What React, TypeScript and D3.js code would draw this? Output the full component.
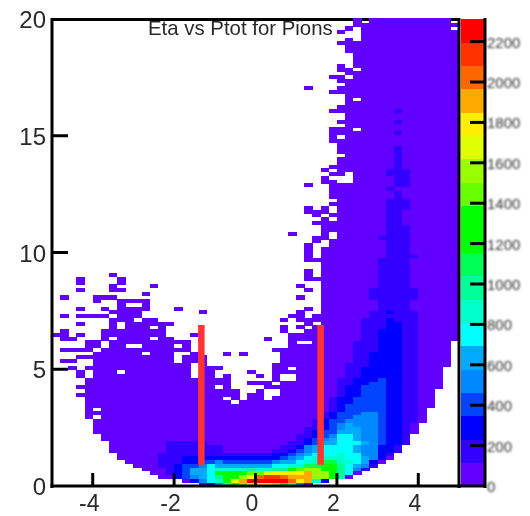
import React from "react";
import * as d3 from "d3";

const title = "Eta vs Ptot for Pions";
const xTicks = [-4, -2, 0, 2, 4];
const yTicks = [0, 5, 10, 15, 20];
const zTicks = [0, 200, 400, 600, 800, 1000, 1200, 1400, 1600, 1800, 2000, 2200];
const palette = ["#6200ff","#3300ff","#0000ff","#0044ff","#0088ff","#00aaff","#00ffff","#00ffcc","#00ff99","#00ff55","#00ff00","#00ff00","#66ff00","#99ff00","#ddff00","#ffee00","#ffaa00","#ff6600","#ff3300","#ff0000"];
const cutLines = [{ x: -1.33, y0: 0.91, y1: 6.9 }, { x: 1.6, y0: 0.91, y1: 6.9 }];
const zMax = 2312;
const xBins = 50;
const yBinWidth = 0.16;

// each row (from y = 0 upward): "<first column><level>" runs; a=lowest level, "."=empty bin
const hist: string[] = [
"18a 19c 20e 21h 22k 23m 24o 25p 27n 28k 29h 30e 31a 32.",
"16a 17c 18e 19g 20h 21k 22o 23q 24t 29r 30p 31q 32h 33c 34.",
"13a 15c 16d 17e 18f 19g 20i 21k 23n 24p 25r 26s 28r 29q 31q 32n 34l 35i 36a 37.",
"12a 14b 15c 16d 17f 19g 20k 23l 24m 26o 27p 31q 32n 34l 35i 36g 37a 38.",
"11a 14b 15c 16d 17f 19g 20h 24i 25h 27i 29k 30m 31n 33l 35i 36g 37e 38b 39.",
"10a 13b 15c 16d 18e 19g 20f 27g 29h 31j 33k 35i 36g 37f 38e 39b 40.",
"9a 13b 16c 18d 20e 21d 27e 28f 30g 31h 33j 35h 37g 38f 39c 40a 41.",
"8a 13b 16c 28d 29e 30f 31g 32h 36g 38f 39e 40c 41a 42.",
"8a 13b 20b 27c 29d 30e 31f 32g 35h 36g 38e 40c 41b 42.",
"7a 14b 21a 27b 29c 30d 31e 32f 33g 37f 38e 40c 42b 43.",
"7a 14b 21a 28b 30c 31e 32f 33g 37f 38e 40c 42b 43.",
"7a 14b 19a 29b 31c 32d 33f 35g 38f 39e 40d 41c 43b 44.",
"6a 30b 31c 32d 33e 34f 35g 37f 38e 40d 41c 43b 44.",
"6a 30b 32c 33d 34e 35g 37f 38e 40d 41c 43b 44.",
"5a 31b 32c 33d 35f 38e 40d 41c 43b 44a 45.",
"5a 31b 33c 34d 35e 36f 38e 40d 41c 43b 44a 45.",
"5a 32b 33c 34d 35e 36f 37e 40d 41c 43b 44a 45.",
"5a 32b 33c 34d 36e 40d 41c 43b 45a 46.",
"4a 5. 6a 33b 34c 35d 37e 40d 41c 43b 45a 46.",
"4a 33b 34c 35d 38e 40d 41c 43b 45a 46.",
"4a 5. 6a 34b 35c 36d 41c 43b 45a 46.",
"4a 34b 35c 36d 41c 43b 45a 47.",
"4a 22. 23a 34b 35c 37d 41c 43b 45a 47.",
"4a 21. 22a 23. 24a 26. 27a 34b 35c 37d 41c 43b 45a 47.",
"3a 23. 24a 26. 28a 35b 36c 38d 41c 43b 45a 47.",
"4a 23. 25a 26. 28a 35b 36c 38d 41c 43b 45a 47.",
"3a 20. 21a 22. 26a 35b 36c 38d 41c 43b 45a 48.",
"4a 22. 24a 27. 28a 35b 37c 39d 41c 43b 45a 48.",
"4a 22. 27a 28. 30a 35b 37c 40d 41c 43b 45a 48.",
"3a 4. 5a 17. 18a 20. 21a 22. 25a 26. 27a 28. 30a 36b 38c 43b 45a 48.",
"3a 4. 5a 8. 9a 17. 18a 20. 24a 25. 27a 36b 38c 43b 45a 48.",
"2a 3. 4a 17. 18a 21. 27a 29. 30a 36b 38c 43b 45a 48.",
"5a 17. 18a 19. 27a 36b 39c 43b 45a 49.",
"1a 3. 5a 15. 16a 19. 28a 37b 39c 43b 45a 49.",
"3a 15. 16a 19. 28a 37b 39c 43b 45a 49.",
"5a 11. 12a 15. 17a 18. 21a 22. 23a 24. 28a 37b 39c 43b 45a 49.",
"1a 5. 6a 17. 27a 37b 40c 43b 45a 49.",
"4a 6. 7a 9. 11a 15. 16a 17. 29a 37b 40c 43b 45a 49.",
"4a 6. 7a 17. 29a 30. 32a 37b 40c 43b 45a 49.",
"1a 3. 6a 7. 8a 12. 13a 15. 26a 27. 29a 38b 40c 43b 45a",
"0a 2. 3a 4. 6a 14. 17a 18. 29a 38b 40c 43b 45a",
"1a 2. 6a 14. 28a 29. 31a 38b 40c 43b 45a",
"7a 8. 9a 12. 13a 14. 28a 29. 30a 31. 32a 38b 41c 43b 45a",
"3a 4. 7a 8. 9a 15. 31a 32. 33a 38b 41c 43b 45a",
"7a 10. 11a 13. 28a 29. 30a 38b 41c 42b 45a",
"1a 2. 3a 7. 8a 11. 29a 31. 32a 39b 45a",
"7a 11. 18a 19. 30a 31. 33a 39b 41c 42b 45a",
"3a 4. 6a 7. 8a 12. 15a 16. 31a 32. 33a 40b 44a",
"8a 9. 11a 12. 33a 40b 44a",
"5a 6. 8a 12. 33a 40b 44a",
"1a 2. 5a 8. 30a 31. 33a 39b 45a",
"11a 12. 33a 39b 45a",
"3a 4. 7a 9. 31a 32. 33a 39b 45a",
"7a 8. 12a 13. 30a 31. 33a 40b 44a",
"3a 4. 8a 9. 33a 40b 44a",
"3a 4. 8a 9. 31a 40b 44a",
"7a 8. 31a 32. 33a 40b 44a",
"31a 32. 33a 40b 44a",
"33a 40b 44a",
"33a 40b 44a",
"31a 40b 44a",
"31a 32. 33a 41b 45a",
"31a 32. 33a 41b 44a",
"31a 32. 33a 41b 44a",
"31a 32. 34a 41b 44a",
"32a 33. 34a 41b 44a",
"32a 34. 35a 40b 44a",
"29a 30. 33a 34. 35a 41b 44a",
"33a 41b 44a",
"33a 41b 44a",
"32a 41b 43a",
"33a 34. 35a 41b 43a",
"32a 33. 34a 41b 43a",
"31a 34. 35a 41b 43a",
"31a 32. 33a 34. 35a 41b 44a",
"34a 41b 44a",
"35a 41b 44a",
"34a 42b 43a",
"34a 42b 43a",
"34a 41b 42a",
"31a 32. 34a 42b 44a",
"33a 35. 37a 42b 44a",
"33a 34. 37a 42b 44a",
"34a 36. 37a 41b 44a",
"33a 34. 35a 41b 44a",
"34a 42b 43a",
"35a 42b 43a",
"35a 42b 43a",
"36a 42b 43a",
"35a 42b 43a",
"35a 42b 43a",
"35a",
"34a",
"34a 35. 36a",
"34a 42b 43a",
"34a 37. 38a",
"36a",
"35a 42b 43a",
"36a",
"36a",
"34a 42b 43a",
"35a",
"36a",
"36a 37. 38a",
"36a",
"34a",
"31a 32. 35a",
"36a",
"35a",
"34a 36. 37a",
"36a",
"35a 37. 38a",
"35a 36. 37a",
"37a",
"37a",
"37a",
"36a",
"36a",
"35a",
"36a 37. 38a",
"38a",
"35a 36. 38a",
"36a 37. 38a 49.",
"37a",
"37a 38. 39a 49.",
"37a 38. 39a 49.",
];

const W = 530, H = 516;
const x = d3.scaleLinear().domain([-5, 5]).range([52, 459]);
const y = d3.scaleLinear().domain([0, 20]).range([486, 19]);
const zAxis = d3.scaleLinear().domain([0, zMax]).range([486, 19]);
const color = d3.scaleQuantize<string>().domain([0, zMax]).range(palette);
const zBin = zMax / palette.length;
const xBinWidth = 10 / xBins;
const histTop = 17.7;

type Cell = { c: number; r: number; v: number };
const cells: Cell[] = hist.flatMap((row, r) => {
  const toks = row.split(" ").map((t) => ({ c: parseInt(t, 10), k: t[t.length - 1] }));
  return toks.flatMap((t, i) => {
    if (t.k === ".") return [];
    const end = i + 1 < toks.length ? toks[i + 1].c : xBins;
    const v = (t.k.charCodeAt(0) - 97 + 0.5) * zBin;
    return d3.range(t.c, end).map((c) => ({ c, r, v }));
  });
});

const sans = "'Liberation Sans', Arial, sans-serif";
const ink = "#2a2a2a";

export default function App() {
  return (
    <svg width={W} height={H} viewBox={`0 0 ${W} ${H}`} style={{ position: "absolute", left: 0, top: 0, background: "#fff" }} fontFamily={sans}>
      <defs>
        <filter id="soft" x="-10%" y="-10%" width="120%" height="120%">
          <feGaussianBlur stdDeviation="0.55" />
        </filter>
        <filter id="softer" x="-10%" y="-10%" width="120%" height="120%">
          <feGaussianBlur stdDeviation="0.8" />
        </filter>
      </defs>
      <line x1={52} x2={459} y1={19.5} y2={19.5} stroke="#000" strokeWidth={3} />
      <g shapeRendering="crispEdges">
        {cells.map((d) => {
          const x0 = x(-5 + d.c * xBinWidth);
          const x1 = x(-5 + (d.c + 1) * xBinWidth);
          const y0 = y(d.r * yBinWidth);
          const y1 = Math.max(histTop, y((d.r + 1) * yBinWidth));
          return <rect key={`${d.c}-${d.r}`} x={x0} y={y1} width={x1 - x0 + 0.3} height={y0 - y1 + 0.3} fill={color(d.v)} />;
        })}
        {palette.map((p, i) => (
          <rect key={i} x={460.5} y={zAxis((i + 1) * zBin)} width={24.5} height={zAxis(i * zBin) - zAxis((i + 1) * zBin) + 0.3} fill={p} />
        ))}
      </g>
      <g stroke="#000" strokeWidth={3} fill="none">
        <line x1={52} x2={52} y1={18} y2={488} />
        <line x1={50.5} x2={460} y1={486} y2={486} />
        <line x1={459} x2={459} y1={18} y2={488} />
        <line x1={485} x2={485} y1={18} y2={488} />
        <line x1={459} x2={470} y1={486} y2={486} />
        {xTicks.map((t) => <line key={t} x1={x(t)} x2={x(t)} y1={486} y2={473} />)}
        {yTicks.filter((t) => t > 0 && t < 20).map((t) => <line key={t} x1={52} x2={68} y1={y(t)} y2={y(t)} />)}
        {zTicks.map((t) => <line key={t} x1={470} x2={485} y1={zAxis(t)} y2={zAxis(t)} />)}
      </g>
      {cutLines.map((l) => (
        <line key={l.x} x1={x(l.x)} x2={x(l.x)} y1={y(l.y0)} y2={y(l.y1)} stroke="#ff3333" strokeWidth={6.5} />
      ))}
      <g filter="url(#soft)" fill={ink}>
        <text x={148} y={35} fontSize={20.4}>{title}</text>
        {yTicks.map((t) => <text key={t} x={46} y={y(t) + 9} fontSize={24} textAnchor="end">{t}</text>)}
        {xTicks.map((t) => <text key={t} x={x(t) - 3.5} y={511} fontSize={23} textAnchor="middle">{t}</text>)}
      </g>
      <g filter="url(#softer)" fill="#333">
        {zTicks.map((t) => <text key={t} x={487} y={zAxis(t) + 6} fontSize={15}>{t}</text>)}
      </g>
    </svg>
  );
}
